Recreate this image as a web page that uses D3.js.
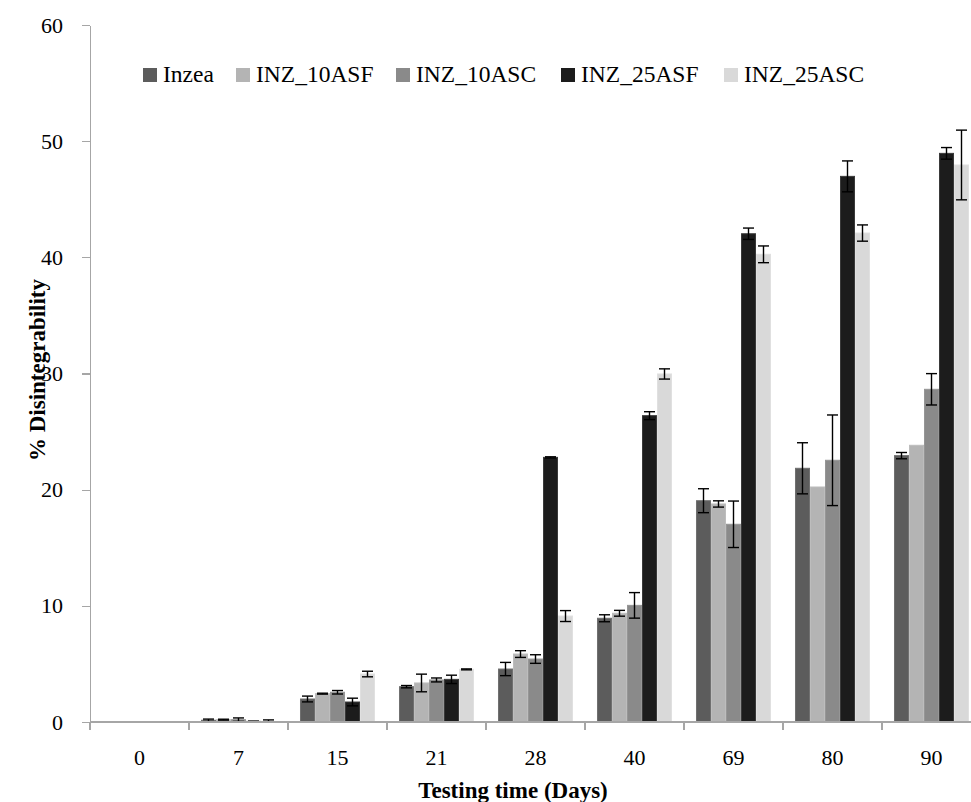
<!DOCTYPE html>
<html lang="en">
<head>
<meta charset="UTF-8">
<title>Disintegrability vs testing time</title>
<style>
  body { margin: 0; background: #fff; }
  svg { display: block; font-family: "Liberation Serif", "DejaVu Serif", serif; }
  .axis path, .axis line { stroke: #a6a6a6; stroke-width: 1.3; shape-rendering: crispEdges; }
  .axis text { font-size: 22px; fill: #000; font-family: "Liberation Serif", serif; }
  .legend text { font-size: 23.5px; font-family: "Liberation Serif", serif; }
  .title { font-size: 23px; font-weight: bold; font-family: "Liberation Serif", serif; }
  .err { stroke: #000; stroke-width: 1.4; }
</style>
</head>
<body>
<svg id="chart"></svg>
<script src="https://cdnjs.cloudflare.com/ajax/libs/d3/7.8.5/d3.min.js"></script>
<script>
// testing days (categories)
const days = ["0", "7", "15", "21", "28", "40", "69", "80", "90"];
const seriesNames = ["Inzea", "INZ_10ASF", "INZ_10ASC", "INZ_25ASF", "INZ_25ASC"];

// % disintegrability
const inzea    = [0, 0.15, 1.98, 3.04, 4.56, 8.93, 19.05, 21.84, 22.93];
const inzeaErr = [0, 0.10, 0.25, 0.10, 0.57, 0.30, 1.03, 2.20, 0.27];
const asf10    = [0, 0.20, 2.44, 3.36, 5.85, 9.36, 18.77, 20.23, 23.82];
const asf10Err = [0, 0.04, 0.04, 0.76, 0.29, 0.25, 0.27, 0, 0];
const asc10    = [0, 0.20, 2.56, 3.62, 5.42, 10.04, 17.02, 22.53, 28.64];
const asc10Err = [0, 0.15, 0.15, 0.17, 0.37, 1.10, 2.00, 3.90, 1.35];
const asf25    = [0, 0.05, 1.72, 3.67, 22.78, 26.37, 42.03, 46.97, 48.95];
const asf25Err = [0, 0.03, 0.33, 0.36, 0.05, 0.34, 0.49, 1.33, 0.50];
const asc25    = [0, 0.05, 4.13, 4.53, 9.12, 29.96, 40.26, 42.09, 47.95];
const asc25Err = [0, 0.13, 0.24, 0.04, 0.47, 0.44, 0.72, 0.70, 3.00];

const yTicks = [0, 10, 20, 30, 40, 50, 60];

const fills   = ["#5c5c5c", "#b4b4b4", "#8a8a8a", "#1c1c1c", "#d9d9d9"];
const strokes = ["#707070", "#bdbdbd", "#969696", "#3a3a3a", "#e0e0e0"];

const values = [inzea, asf10, asc10, asf25, asc25];
const errors = [inzeaErr, asf10Err, asc10Err, asf25Err, asc25Err];

const width = 971, height = 802;
const plot = { left: 90, right: 981, top: 25, bottom: 722 };

const svg = d3.select("#chart")
  .attr("width", width)
  .attr("height", height);

const x = d3.scaleBand()
  .domain(days)
  .range([plot.left, plot.right])
  .paddingInner(0.2424)
  .paddingOuter(0.1212);

const xSub = d3.scaleBand()
  .domain(seriesNames)
  .range([0, x.bandwidth()]);

const y = d3.scaleLinear()
  .domain([0, 60])
  .range([plot.bottom, plot.top]);

// flatten into bar records
const bars = [];
days.forEach((d, i) => {
  seriesNames.forEach((s, j) => {
    bars.push({ day: d, series: s, idx: j, v: values[j][i], e: errors[j][i] });
  });
});

// y axis
svg.append("g")
  .attr("class", "axis")
  .attr("transform", "translate(" + plot.left + ",0)")
  .call(d3.axisLeft(y).tickValues(yTicks).tickSize(8).tickSizeOuter(0).tickPadding(19));

// bars
svg.append("g")
  .selectAll("rect")
  .data(bars)
  .enter()
  .append("rect")
  .attr("x", d => x(d.day) + xSub(d.series) + 0.5)
  .attr("y", d => y(d.v))
  .attr("width", xSub.bandwidth() - 1)
  .attr("height", d => y(0) - y(d.v))
  .attr("fill", d => fills[d.idx])
  .attr("stroke", d => strokes[d.idx])
  .attr("stroke-width", 1);

// error bars
const errG = svg.append("g")
  .selectAll("g")
  .data(bars.filter(d => d.e > 0))
  .enter()
  .append("g")
  .attr("class", "err");

const cx = d => x(d.day) + xSub(d.series) + xSub.bandwidth() / 2;
const capW = 5.5;

errG.append("line")
  .attr("x1", cx).attr("x2", cx)
  .attr("y1", d => y(d.v + d.e))
  .attr("y2", d => y(Math.max(0, d.v - d.e)));
errG.append("line")
  .attr("x1", d => cx(d) - capW).attr("x2", d => cx(d) + capW)
  .attr("y1", d => y(d.v + d.e)).attr("y2", d => y(d.v + d.e));
errG.append("line")
  .attr("x1", d => cx(d) - capW).attr("x2", d => cx(d) + capW)
  .attr("y1", d => y(Math.max(0, d.v - d.e))).attr("y2", d => y(Math.max(0, d.v - d.e)));

// x axis: labels centred on each group, ticks between groups
const xAxisG = svg.append("g")
  .attr("class", "axis")
  .attr("transform", "translate(0," + plot.bottom + ")")
  .call(d3.axisBottom(x).tickSize(0).tickSizeOuter(0).tickPadding(27));
xAxisG.select(".domain").attr("d", "M" + plot.left + ",0H" + plot.right);

const step = x.step();
const boundaries = days.map(d => x(d) - (step - x.bandwidth()) / 2).concat([plot.right]);
xAxisG.selectAll(".sep")
  .data(boundaries)
  .enter()
  .append("line")
  .attr("class", "sep")
  .attr("x1", d => d).attr("x2", d => d)
  .attr("y1", 0).attr("y2", 8);

// legend
const legendX = [143, 236, 396, 561, 724];
const legend = svg.append("g")
  .attr("class", "legend")
  .selectAll("g")
  .data(seriesNames)
  .enter()
  .append("g")
  .attr("transform", (d, i) => "translate(" + legendX[i] + ",68)");
legend.append("rect")
  .attr("width", 14)
  .attr("height", 14)
  .attr("fill", (d, i) => fills[i]);
legend.append("text")
  .attr("x", 20)
  .attr("y", 14)
  .text(d => d);

// axis titles
svg.append("text")
  .attr("class", "title")
  .attr("x", 513)
  .attr("y", 798)
  .attr("text-anchor", "middle")
  .text("Testing time (Days)");

svg.append("text")
  .attr("class", "title")
  .attr("transform", "translate(45,370) rotate(-90)")
  .attr("text-anchor", "middle")
  .text("% Disintegrability");
</script>
</body>
</html>
